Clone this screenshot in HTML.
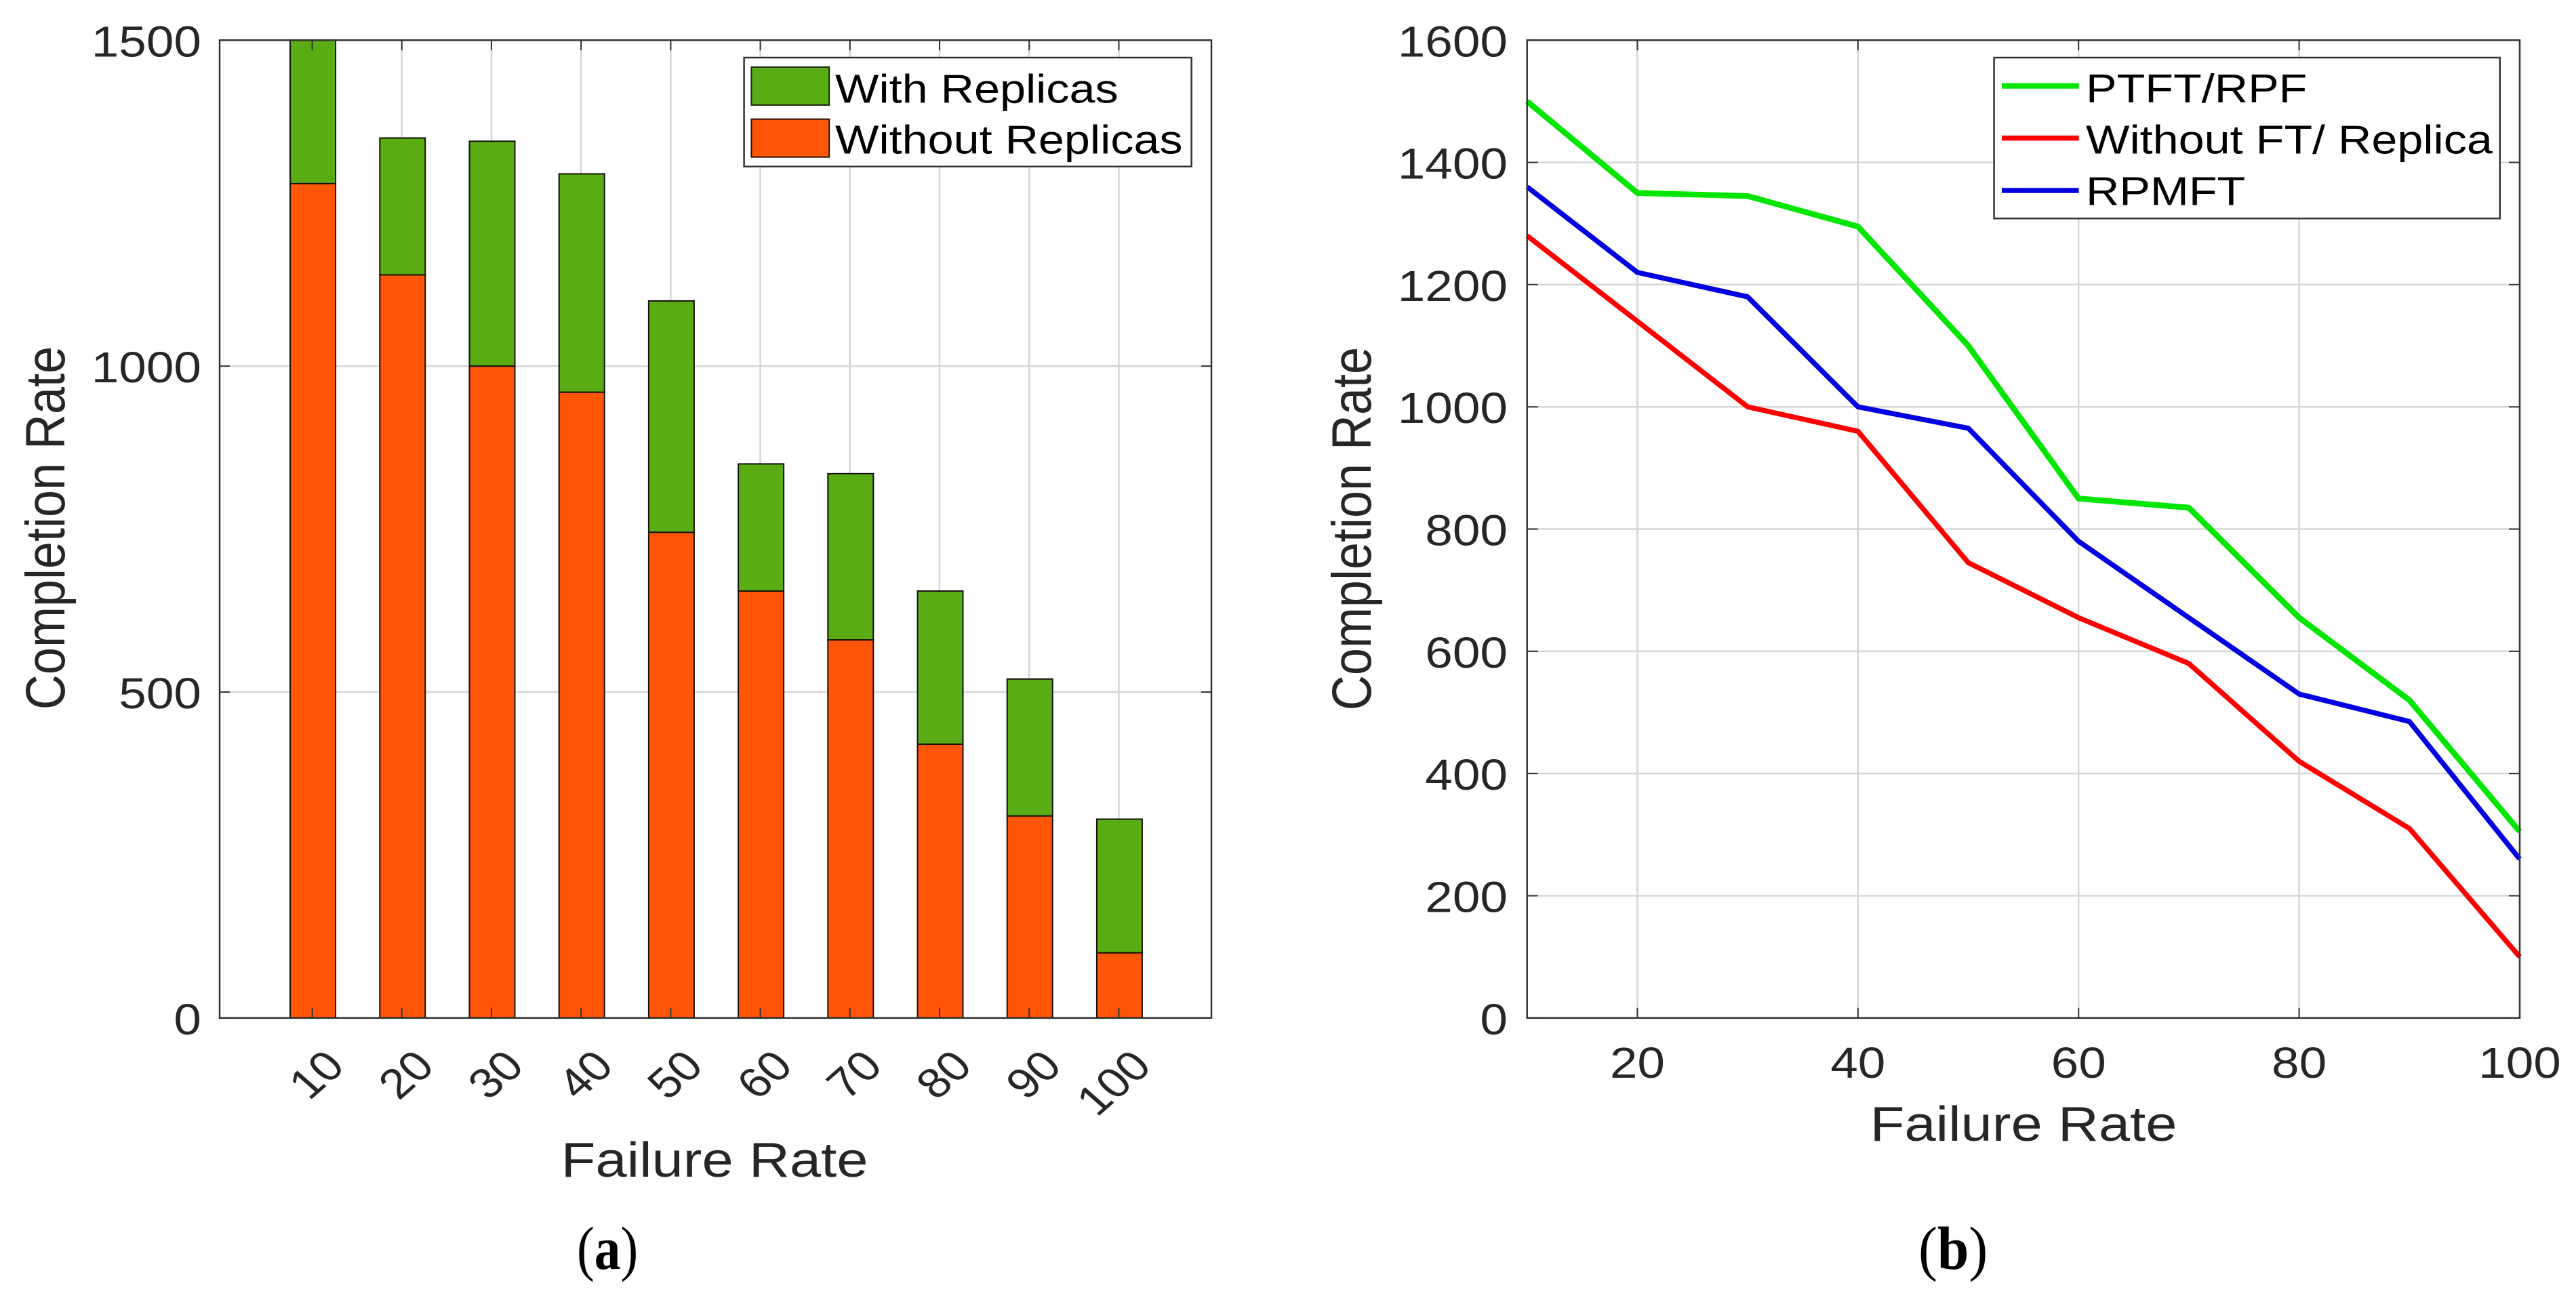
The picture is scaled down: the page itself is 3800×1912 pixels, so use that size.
<!DOCTYPE html>
<html lang="en">
<head>
<meta charset="utf-8">
<title>Completion Rate vs Failure Rate</title>
<style>
html,body{margin:0;padding:0;background:#fff;}
svg{display:block;}
text{font-family:"Liberation Sans",Arial,sans-serif;fill:#262626;}
.leg{fill:#000;font-size:59px;}
.cap{font-family:"Liberation Serif","Times New Roman",serif;fill:#000;font-size:90px;}
</style>
</head>
<body>
<svg id="figure" xmlns="http://www.w3.org/2000/svg" width="3800" height="1912" viewBox="0 0 3800 1912">
  <rect x="0" y="0" width="3800" height="1912" fill="#ffffff"/>
  <g id="a-grid"></g>
  <g id="a-bars"></g>
  <g id="a-axes"></g>
  <g id="b-grid"></g>
  <g id="b-lines"></g>
  <g id="b-axes"></g>

  <text font-size="72" text-anchor="middle" transform="translate(1054,1736) scale(1.155,1)">Failure Rate</text>
  <text font-size="72" text-anchor="middle" transform="translate(95,779) scale(1.14,1) rotate(-90)">Completion Rate</text>
  <text font-size="72" text-anchor="middle" transform="translate(2985,1683) scale(1.155,1)">Failure Rate</text>
  <text font-size="72" text-anchor="middle" transform="translate(2022,780) scale(1.14,1) rotate(-90)">Completion Rate</text>

  <g>
    <rect x="1097.6" y="85" width="660" height="160.7" fill="#fff" stroke="#333" stroke-width="2.5"/>
    <rect x="1108.4" y="99" width="114.8" height="56" fill="#5aac14" stroke="#1a2a10" stroke-width="2"/>
    <text class="leg" transform="translate(1232,151.5) scale(1.158,1)">With Replicas</text>
    <rect x="1108.4" y="175.7" width="114.8" height="56" fill="#ff5508" stroke="#2a1208" stroke-width="2"/>
    <text class="leg" transform="translate(1232,226.7) scale(1.158,1)">Without Replicas</text>
  </g>

  <g>
    <rect x="2941.6" y="85" width="746.2" height="237.3" fill="#fff" stroke="#333" stroke-width="2.5"/>
    <line x1="2953" y1="126.7" x2="3066.6" y2="126.7" stroke="#00e600" stroke-width="8"/>
    <text class="leg" transform="translate(3077,151) scale(1.158,1)">PTFT/RPF</text>
    <line x1="2953" y1="203.7" x2="3066.6" y2="203.7" stroke="#ff0000" stroke-width="7.5"/>
    <text class="leg" transform="translate(3077,226.7) scale(1.158,1)">Without FT/ Replica</text>
    <line x1="2953" y1="281" x2="3066.6" y2="281" stroke="#0000e0" stroke-width="7.5"/>
    <text class="leg" transform="translate(3077,302.7) scale(1.158,1)">RPMFT</text>
  </g>

  <text class="cap" transform="translate(851,1872) scale(0.86,1)">(<tspan font-weight="bold">a</tspan>)</text>
  <text class="cap" transform="translate(2830,1872) scale(0.93,1)">(<tspan font-weight="bold">b</tspan>)</text>
</svg>
<script>
// Bar chart data (panel a)
var barCategories = [10, 20, 30, 40, 50, 60, 70, 80, 90, 100];
var withoutReplicas = [1280, 1140, 1000, 960, 745, 655, 580, 420, 310, 100];
var withReplicasExtra = [220, 210, 345, 335, 355, 195, 255, 235, 210, 205];
var barYTicks = [0, 500, 1000, 1500];

// Line chart data (panel b)
var lineX = [10, 20, 30, 40, 50, 60, 70, 80, 90, 100];
var ptftRpf = [1500, 1350, 1345, 1295, 1100, 850, 835, 655, 520, 305];
var withoutFt = [1280, 1140, 1000, 960, 745, 655, 580, 420, 310, 100];
var rpmft = [1360, 1220, 1180, 1000, 965, 780, 655, 530, 485, 260];
var lineXTicks = [20, 40, 60, 80, 100];
var lineYTicks = [0, 200, 400, 600, 800, 1000, 1200, 1400, 1600];

var NS = 'http://www.w3.org/2000/svg';
var TOP = 59.3, BOTTOM = 1501.8;
var GRID = '#d6d6d6';

function linear(d0, d1, r0, r1) {
  return function (v) { return r0 + (v - d0) * (r1 - r0) / (d1 - d0); };
}
function make(tag, parentId, attrs) {
  var el = document.createElementNS(NS, tag);
  for (var k in attrs) { el.setAttribute(k, attrs[k]); }
  document.getElementById(parentId).appendChild(el);
  return el;
}

// ---------- Panel a ----------
var ax = linear(-0.33, 110.33, 324, 1787);
var ay = linear(0, 1500, BOTTOM, TOP);
var A_LEFT = 324, A_RIGHT = 1787, BAR_W = 67;

barCategories.forEach(function (c) {
  var g = make('line', 'a-grid', {x1: ax(c), x2: ax(c), y1: TOP, y2: BOTTOM, stroke: GRID, 'stroke-width': 2.5});
  
  
});
barYTicks.forEach(function (t) {
  var g = make('line', 'a-grid', {x1: A_LEFT, x2: A_RIGHT, y1: ay(t), y2: ay(t), stroke: GRID, 'stroke-width': 2.5});
  
  
});

barCategories.forEach(function (c, i) {
  var low = withoutReplicas[i];
  var high = low + withReplicasExtra[i];
  var seg1 = make('rect', 'a-bars', {x: ax(c) + 1 - BAR_W / 2, y: ay(low), width: BAR_W, height: ay(0) - ay(low), fill: '#ff5508', stroke: '#14100c', 'stroke-width': 2});
  
  
  var seg2 = make('rect', 'a-bars', {x: ax(c) + 1 - BAR_W / 2, y: ay(high), width: BAR_W, height: ay(low) - ay(high), fill: '#5aac14', stroke: '#14100c', 'stroke-width': 2});
  
  
});

var aFrame = make('rect', 'a-axes', {x: A_LEFT, y: TOP, width: A_RIGHT - A_LEFT, height: BOTTOM - TOP, fill: 'none', stroke: '#333', 'stroke-width': 2.5});



barCategories.forEach(function (c) {
  var t1 = make('line', 'a-axes', {x1: ax(c), x2: ax(c), y1: BOTTOM, y2: BOTTOM - 15, stroke: '#333', 'stroke-width': 2});
  
  
  var t2 = make('line', 'a-axes', {x1: ax(c), x2: ax(c), y1: TOP, y2: TOP + 15, stroke: '#333', 'stroke-width': 2});
  
  
  var lab = make('text', 'a-axes', {'font-size': 62, 'text-anchor': 'end', transform: 'translate(' + (ax(c) + 51) + ',1576) scale(1.14,1) rotate(-45)'});
  lab.textContent = String(c);
  
  
});
barYTicks.forEach(function (t) {
  var t1 = make('line', 'a-axes', {x1: A_LEFT, x2: A_LEFT + 15, y1: ay(t), y2: ay(t), stroke: '#333', 'stroke-width': 2});
  
  
  var t2 = make('line', 'a-axes', {x1: A_RIGHT, x2: A_RIGHT - 15, y1: ay(t), y2: ay(t), stroke: '#333', 'stroke-width': 2});
  
  
  var lab = make('text', 'a-axes', {'font-size': 64, 'text-anchor': 'end', transform: 'translate(297,' + (ay(t) + 24) + ') scale(1.14,1)'});
  lab.textContent = String(t);
  
  
});

// ---------- Panel b ----------
var bx = linear(10, 100, 2252.7, 3717);
var by = linear(0, 1600, BOTTOM, TOP);
var B_LEFT = 2252.7, B_RIGHT = 3717;

lineXTicks.forEach(function (t) {
  var g = make('line', 'b-grid', {x1: bx(t), x2: bx(t), y1: TOP, y2: BOTTOM, stroke: GRID, 'stroke-width': 2.5});
  
  
});
lineYTicks.forEach(function (t) {
  var g = make('line', 'b-grid', {x1: B_LEFT, x2: B_RIGHT, y1: by(t), y2: by(t), stroke: GRID, 'stroke-width': 2.5});
  
  
});

function pathFor(values) {
  return values.map(function (v, i) { return (i ? 'L' : 'M') + bx(lineX[i]) + ' ' + by(v); }).join(' ');
}
var greenLine = make('path', 'b-lines', {d: pathFor(ptftRpf), fill: 'none', stroke: '#00e600', 'stroke-width': 8.5, 'stroke-linejoin': 'round'});


var redLine = make('path', 'b-lines', {d: pathFor(withoutFt), fill: 'none', stroke: '#ff0000', 'stroke-width': 7.5, 'stroke-linejoin': 'round'});


var blueLine = make('path', 'b-lines', {d: pathFor(rpmft), fill: 'none', stroke: '#0000e0', 'stroke-width': 7.5, 'stroke-linejoin': 'round'});



var bFrame = make('rect', 'b-axes', {x: B_LEFT, y: TOP, width: B_RIGHT - B_LEFT, height: BOTTOM - TOP, fill: 'none', stroke: '#333', 'stroke-width': 2.5});



lineXTicks.forEach(function (t) {
  var t1 = make('line', 'b-axes', {x1: bx(t), x2: bx(t), y1: BOTTOM, y2: BOTTOM - 15, stroke: '#333', 'stroke-width': 2});
  
  
  var t2 = make('line', 'b-axes', {x1: bx(t), x2: bx(t), y1: TOP, y2: TOP + 15, stroke: '#333', 'stroke-width': 2});
  
  
  var lab = make('text', 'b-axes', {'font-size': 64, 'text-anchor': 'middle', transform: 'translate(' + bx(t) + ',1590) scale(1.14,1)'});
  lab.textContent = String(t);
  
  
});
lineYTicks.forEach(function (t) {
  var t1 = make('line', 'b-axes', {x1: B_LEFT, x2: B_LEFT + 16, y1: by(t), y2: by(t), stroke: '#333', 'stroke-width': 2});
  
  
  var t2 = make('line', 'b-axes', {x1: B_RIGHT, x2: B_RIGHT - 16, y1: by(t), y2: by(t), stroke: '#333', 'stroke-width': 2});
  
  
  var lab = make('text', 'b-axes', {'font-size': 64, 'text-anchor': 'end', transform: 'translate(2224,' + (by(t) + 24) + ') scale(1.14,1)'});
  lab.textContent = String(t);
  
  
});
</script>
</body>
</html>
